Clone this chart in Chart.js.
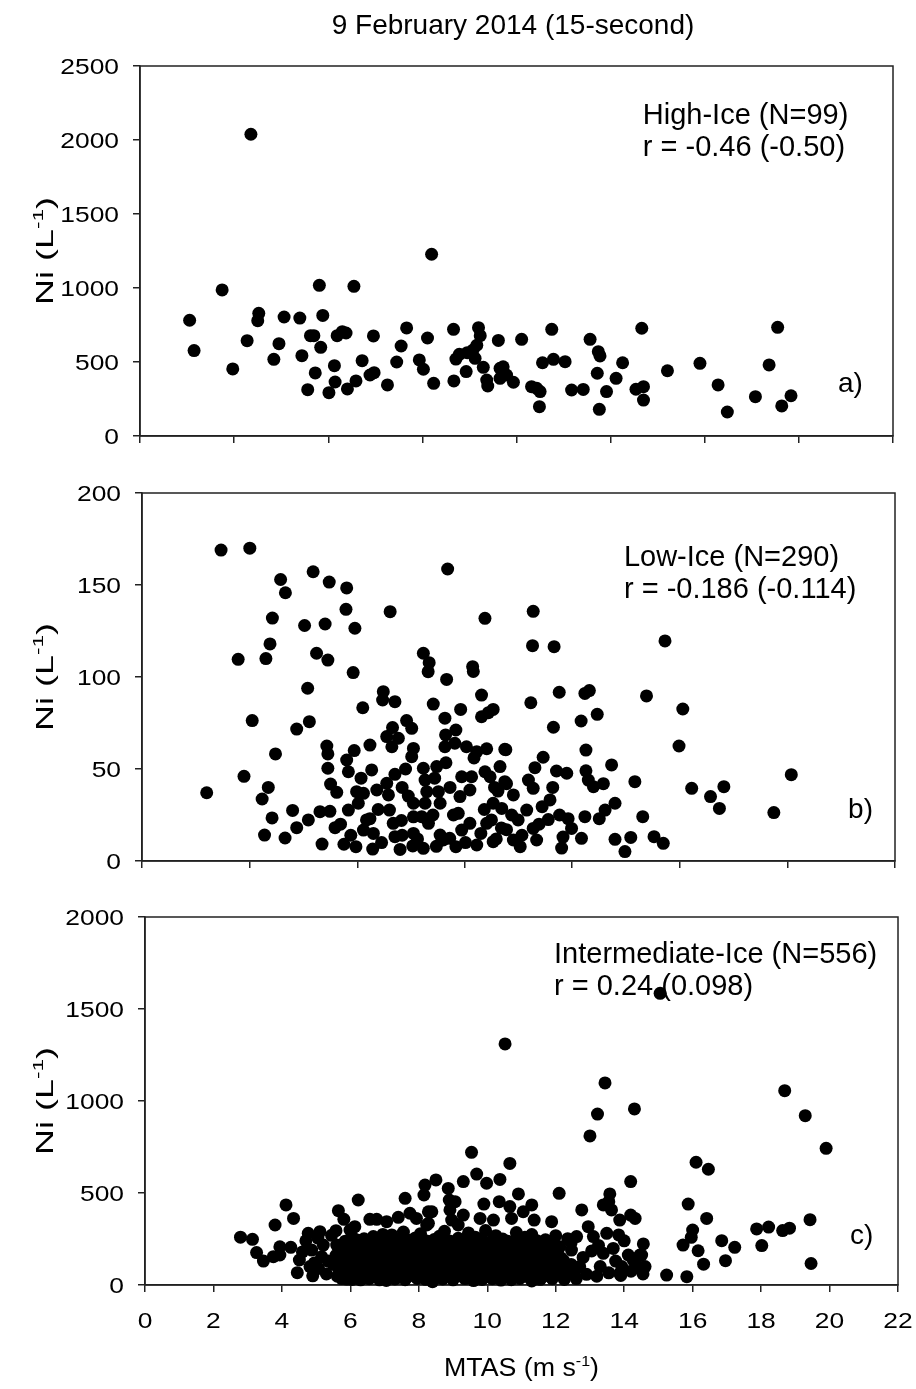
<!DOCTYPE html>
<html>
<head>
<meta charset="utf-8">
<script src="https://cdn.jsdelivr.net/npm/chart.js@4/dist/chart.umd.min.js"></script>
<style>
  body { margin: 0; background: #fff; }
  canvas { position: absolute; left: 0; }
</style>
</head>
<body>
<canvas id="highIce" width="916" height="446" style="top:0px"></canvas>
<canvas id="lowIce" width="916" height="425" style="top:446px"></canvas>
<canvas id="midIce" width="916" height="518" style="top:871px"></canvas>
<script>
// MTAS (m/s), Ni (1/L) pairs
const highIce = [
  [3.24,2039],[8.52,1228],[2.40,987],[5.24,1018],[6.25,1011],[1.45,782],[1.58,577],[2.71,453],
  [3.13,644],[3.47,829],[3.44,779],[3.91,518],[4.06,624],[4.21,804],[4.67,797],[4.73,543],
  [4.90,313],[4.98,678],[5.08,678],[5.12,426],[5.28,599],[5.34,815],[5.52,293],[5.68,475],
  [5.70,365],[5.76,678],[5.91,705],[6.02,696],[6.06,318],[6.31,372],[6.49,509],[6.72,412],
  [6.84,428],[6.82,676],[7.23,345],[7.50,500],[7.63,608],[7.79,730],[8.16,514],[8.28,451],
  [8.40,662],[8.58,356],[9.16,721],[9.17,372],[9.23,520],[9.33,552],[9.53,435],[9.56,563],
  [9.73,581],[9.84,613],[9.89,732],[9.94,678],[10.03,464],[10.13,378],[10.16,338],[9.79,525],
  [10.47,646],[10.52,457],[10.52,390],[10.61,468],[10.71,412],[10.91,363],[11.15,653],[12.03,721],
  [11.44,333],[11.59,322],[11.69,300],[11.67,198],[11.76,495],[12.08,518],[12.42,502],[12.61,311],
  [12.95,315],[13.15,653],[13.39,570],[13.44,541],[13.36,424],[13.63,300],[13.42,180],[13.91,390],
  [14.10,495],[14.49,316],[14.71,333],[14.71,243],[14.66,728],[15.41,441],[16.36,491],[16.89,345],
  [17.16,162],[17.98,266],[18.38,480],[18.63,734],[18.75,203],[19.02,272]
];

const lowIce = [
  [1.89,37.1],[2.31,169],[3.15,170],[2.81,109.6],[2.98,46],[3.22,76.3],[3.51,33.7],[3.58,14.1],
  [3.69,40],[3.62,110],[3.74,118],[3.81,132],[3.80,23.4],[3.90,58.2],[4.05,153],[4.19,145.8],
  [4.18,12.5],[4.40,27.5],[4.52,71.7],[4.52,18.1],[4.75,128],[4.84,93.9],[4.89,75.7],[4.86,22.3],
  [5.00,157.2],[5.10,112.9],[5.20,26.8],[5.26,9.2],[5.35,128.8],[5.40,62.5],[5.43,58.2],[5.43,50.4],
  [5.43,109.2],[5.47,151.6],[5.49,27],[5.51,41.8],[5.64,18.1],[5.69,37.3],[5.98,148.4],[5.96,136.8],
  [5.98,54.9],[6.03,48.5],[5.90,9.1],[6.03,27.7],[6.17,102.4],[6.22,126.5],[6.25,7.8],[6.27,37.7],
  [6.32,31.4],[6.47,36.8],[6.47,16.8],[6.45,83.3],[6.56,22.3],[6.66,23],[6.71,49.5],[6.66,63],
  [6.74,6.5],[6.76,15],[6.86,38.6],[7.05,92],[7.03,87.5],[7.25,135.5],[7.32,72.5],[7.15,67.6],
  [7.30,62.1],[7.39,86.6],[7.49,66.7],[7.39,47.1],[7.15,42.2],[7.20,35.9],[7.23,27.7],[7.34,20.5],
  [7.39,13.2],[7.54,6.3],[7.58,22],[7.73,76.3],[7.88,72.1],[7.93,61.2],[7.88,56.7],[7.78,35.3],
  [7.93,31.4],[7.93,24],[7.93,15],[7.91,8.2],[8.22,112.9],[8.39,107.8],[8.36,102.9],[8.22,50.4],
  [8.27,44],[8.32,37.7],[8.27,31.4],[8.17,24.1],[8.37,20.5],[8.22,6.9],[8.51,85.3],[8.66,37.7],
  [8.71,31.4],[8.61,51.3],[8.85,77.6],[8.90,98.7],[8.93,158.7],[8.87,68.5],[8.85,62.1],[8.88,53.4],
  [8.71,14.1],[8.80,11.4],[8.99,12.3],[9.17,7.8],[9.17,71.2],[9.14,64],[9.31,82.4],[9.34,45.8],
  [9.48,62.1],[9.29,35],[9.24,25.9],[9.34,16.8],[9.58,20.5],[9.58,38.6],[9.63,45.8],[9.66,105.6],
  [9.68,103],[9.78,59.4],[9.78,8.7],[9.92,90.2],[10.02,131.9],[9.92,78.4],[10.12,80.6],[10.26,82.4],
  [10.07,61],[10.02,48.5],[10.17,45.8],[10.26,31.4],[10.46,51.3],[10.21,22.3],[10.26,10.5],[10.07,20.5],
  [10.60,60.7],[10.60,43.1],[10.50,18],[10.40,38],
  [11.43,135.7],[11.41,117],[12.04,116.5],[15.28,119.6],[12.19,91.7],[12.94,91.1],[13.07,92.6],[14.74,89.7],
  [11.36,86],[15.80,82.6],[13.30,79.7],[12.83,76.1],[12.02,72.7],[15.69,62.5],[12.97,60.3],[10.63,60.5],
  [11.72,56.4],[13.72,52.2],[11.48,50.7],[12.11,48.9],[12.41,47.7],[12.97,49],[18.97,46.9],[10.65,42],
  [11.29,44],[13.04,44],[13.19,40.4],[13.48,42],[14.40,43.1],[16.06,39.5],[17.00,40.4],[16.61,35],
  [16.87,28.6],[18.46,26.3],[10.85,35.9],[11.43,39.5],[11.92,33.2],[11.69,29.5],[13.82,31.4],[13.53,27.7],
  [11.24,27.7],[10.51,28.6],[10.99,22.3],[11.87,22.5],[12.45,23],[12.94,24.1],[13.36,23],[14.63,24.1],
  [11.43,17.7],[10.65,17],[12.55,17.7],[12.84,12.3],[12.30,13],[13.82,11.8],[14.28,12.8],[14.96,13.2],
  [15.23,9.6],[14.11,5.1],[11.05,7.8],[12.26,7],[11.53,11.4],[10.85,11.4],
  [5.80,20],[6.10,14],[6.40,45],[6.90,28],[7.00,10],[7.60,40],[7.70,50],[8.05,12],
  [8.50,25],[8.60,8],[9.00,40],[9.10,25],[9.45,10],[9.90,15],[10.00,28],[10.30,40],
  [10.80,25],[11.10,14],[11.60,20],[12.00,40],[12.20,25],[6.20,60],[7.60,14],[8.55,45],
  [9.70,56],[10.35,12]
];

const midIce = [
  [2.79,260],[3.14,248],[3.26,176],[3.46,130],[3.75,154],[3.94,208],[3.94,163],[4.26,205],
  [3.80,326],[4.12,435],[4.34,362],[4.51,136],[4.45,67],[4.77,281],[5.11,290],[4.87,190],
  [4.82,100],[5.07,90],[5.21,217],[5.16,154],[5.65,404],[5.58,295],[5.81,357],[5.99,299],
  [6.13,317],[6.23,462],[5.70,63],[5.60,217],[5.60,154],[5.89,172],[6.09,63],[6.19,226],
  [6.28,136],[6.57,357],[6.77,357],[7.06,344],[7.40,368],[7.60,471],[7.74,390],[7.93,362],
  [8.18,543],[8.15,489],[8.23,326],[8.28,398],[6.67,263],[6.87,208],[7.21,272],
  [4.60,180],[4.70,240],[4.95,120],[5.05,255],[5.30,60],[5.35,130],[5.45,270],[4.90,50],
  [15.05,1585],[10.52,1310],[13.44,1098],[13.22,929],[14.30,957],[13.00,810],[18.69,1056],[19.29,920],
  [19.90,743],[9.54,721],[10.66,661],[16.10,667],[16.46,629],[9.69,603],
  [10.37,574],[9.98,553],[9.30,562],[8.50,571],[8.86,525],[8.89,462],[9.06,453],[8.38,398],
  [8.28,335],[8.91,408],[8.96,353],[9.15,326],[9.30,380],[9.90,440],[10.35,453],[10.91,495],
  [11.30,435],[10.66,426],[9.79,362],[10.18,353],[10.71,362],[11.05,398],[11.37,353],[11.88,344],
  [12.10,498],[12.76,408],[12.95,317],[13.58,495],[13.39,435],[13.55,453],[13.63,408],[13.87,353],
  [14.19,562],[14.19,380],[14.32,362],[13.49,281],[13.84,272],[14.56,223],[14.46,163],[14.61,100],
  [15.24,54],[15.83,45],[15.87,440],[16.41,362],[16.00,299],[15.96,259],[15.72,217],[16.16,186],
  [16.32,113],[16.85,241],[16.96,132],[17.23,205],[17.87,305],[18.22,315],[18.02,214],[18.63,296],
  [18.83,309],[19.43,355],[19.46,117],
  [13.68,199],[14.12,163],[13.93,100],[13.30,100],[13.39,172],[13.10,263],[12.61,263],[12.46,190],
  [12.70,100],[12.22,136],[11.93,100],[12.12,208],[14.26,136],[14.51,163],[14.41,100],[13.87,63],
  [12.55,70],[12.90,58],[13.20,48],[13.55,66],[13.90,52],[14.20,75],[14.55,60],[12.80,150],
  [13.05,185],[13.75,130],[14.00,240],[12.45,230],[13.25,215],
  [5.62,48],[5.95,61],[6.18,42],[6.41,55],[6.66,70],[6.88,47],[7.12,58],[7.35,39],
  [7.58,66],[7.81,52],[8.03,44],[8.27,71],[8.44,30],[8.62,57],[8.85,49],[9.08,63],
  [9.31,41],[9.52,68],[9.77,53],[9.98,45],[10.22,62],[10.46,50],[10.68,38],[10.91,59],
  [11.13,47],[11.38,66],[11.60,52],[11.85,44],[12.07,61],[12.30,55],
  [5.50,112],[5.78,96],[6.02,118],[6.30,88],[6.53,104],[6.79,121],[7.02,92],[7.26,109],
  [7.47,86],[7.70,117],[7.94,98],[8.16,125],[8.39,90],[8.58,110],[8.80,95],[9.02,119],
  [9.24,87],[9.46,106],[9.68,124],[9.90,93],[10.13,113],[10.36,89],[10.58,108],[10.80,121],
  [11.02,94],[11.26,110],[11.50,88],[11.72,117],[11.96,99],[12.20,85],[12.45,112],
  [5.58,161],[5.84,146],[6.08,172],[6.35,151],[6.60,168],[6.83,142],[7.06,163],[7.30,177],
  [7.52,149],[7.76,166],[8.00,141],[8.21,174],[8.47,155],[8.70,170],[8.93,145],[9.14,163],
  [9.38,178],[9.60,150],[9.84,168],[10.05,143],[10.28,160],[10.52,176],[10.74,147],[10.97,164],
  [11.20,152],[11.43,171],[11.66,140],[11.90,158],[12.15,148],
  [5.72,205],[6.00,224],[6.25,198],[6.47,215],[6.72,229],[6.95,196],[7.18,218],[7.43,203],
  [7.66,230],[7.88,194],[8.10,212],[8.33,236],[8.55,200],[8.77,222],[9.00,208],[9.20,231],
  [9.44,195],[9.65,216],[9.88,238],[10.10,201],[10.33,220],[10.56,206],[10.78,232],[11.00,198],
  [11.24,215],[11.48,227],[11.70,192],[11.94,211],
  [6.05,262],[6.40,251],[6.95,275],[7.30,248],[7.55,288],[7.90,256],[8.05,279],[8.60,265],
  [8.75,292],[9.15,254],[9.45,283],[9.65,260],[9.95,296],[10.25,268],[10.45,250],[10.85,285],
  [11.10,259],[11.30,274],[11.70,246],[12.00,268],[12.35,252],
  [6.30,28],[7.05,25],[8.40,18],[9.60,24],[10.40,27],[11.30,22],[12.60,35],[5.90,32],
  [5.68,80],[5.90,74],[6.12,85],[6.38,77],[6.60,83],[6.84,72],[7.08,80],[7.30,76],
  [7.53,88],[7.75,79],[7.98,73],[8.20,84],[8.42,78],[8.66,86],[8.90,74],[9.12,81],
  [9.36,77],[9.58,85],[9.82,72],[10.04,80],[10.26,87],[10.50,75],[10.72,82],[10.96,78],
  [11.18,84],[11.42,73],[11.65,80],[11.88,76],[12.12,83],[12.35,79],
  [5.65,132],[5.92,128],[6.16,138],[6.42,126],[6.68,136],[6.92,131],[7.15,127],[7.38,139],
  [7.62,133],[7.86,129],[8.08,137],[8.30,128],[8.52,134],[8.76,130],[8.98,138],[9.20,126],
  [9.42,135],[9.64,131],[9.87,137],[10.09,128],[10.32,134],[10.54,130],[10.78,139],[11.00,127],
  [11.22,133],[11.46,129],[11.69,136],[11.92,131],[12.18,125],
  [5.80,184],[6.10,190],[6.34,180],[6.58,188],[6.80,183],[7.04,191],[7.27,186],[7.50,181],
  [7.74,189],[7.96,184],[8.20,192],[8.42,182],[8.64,187],[8.88,181],[9.10,190],[9.32,185],
  [9.55,188],[9.78,182],[10.00,189],[10.22,184],[10.45,191],[10.68,181],[10.90,187],[11.12,183],
  [11.36,190],[11.58,186],[11.82,181],[12.05,188],
  [5.85,238],[6.20,244],[6.55,236],[6.85,246],[7.10,240],[7.42,235],[7.75,243],[8.20,241],
  [8.45,247],[8.90,239],[9.30,244],[9.55,237],[9.80,247],[10.15,241],[10.60,238],[11.00,243],
  [11.45,240],[11.85,236],
  [5.75,35],[6.05,30],[6.55,34],[6.85,28],[7.30,33],[7.60,29],[7.95,36],[8.20,31],
  [8.70,33],[9.00,28],[9.35,35],[9.85,30],[10.15,34],[10.70,29],[10.95,36],[11.55,31],
  [11.90,34],[12.25,30]
];

const xTicksA = [0, 2.75, 5.5, 8.25, 11, 13.75, 16.5, 19.25, 22];
const xTicksB = [0, 3.14, 6.29, 9.43, 12.57, 15.71, 18.86, 22];
const xTicksC = [0, 2, 4, 6, 8, 10, 12, 14, 16, 18, 20, 22];
const yTicksA = [0, 500, 1000, 1500, 2000, 2500];
const yTicksB = [0, 50, 100, 150, 200];
const yTicksC = [0, 500, 1000, 1500, 2000];

const FONT = '"Liberation Sans", Arial, sans-serif';

// draws a run of text pieces, optionally stretched along the baseline and rotated
function drawParts(ctx, parts, x, y, sx, align, angle) {
  ctx.save();
  ctx.translate(x, y);
  if (angle) ctx.rotate(angle);
  ctx.scale(sx, 1);
  ctx.textAlign = 'left';
  ctx.textBaseline = 'alphabetic';
  let total = 0;
  parts.forEach(p => {
    ctx.font = p.size + 'px ' + FONT;
    p.w = ctx.measureText(p.text).width;
    total += p.w;
  });
  let cx = align === 'right' ? -total : align === 'center' ? -total / 2 : 0;
  parts.forEach(p => {
    ctx.font = p.size + 'px ' + FONT;
    ctx.fillText(p.text, cx, -(p.rise || 0));
    cx += p.w;
  });
  ctx.restore();
}

const sigmaText = {
  id: 'sigmaText',
  beforeDatasetsDraw(chart, args, opts) {
    const ctx = chart.ctx;
    const {left, top, right, bottom} = chart.chartArea;
    const xs = chart.scales.x, ys = chart.scales.y;
    ctx.save();
    ctx.strokeStyle = '#222';
    ctx.lineWidth = 1.5;
    ctx.strokeRect(left, top, right - left, bottom - top);
    ctx.fillStyle = '#000';
    (opts.notes || []).forEach(n => {
      drawParts(ctx, [{text: n.text, size: n.size}], xs.getPixelForValue(n.x), ys.getPixelForValue(n.y), 1, 'left');
    });
    ctx.restore();
  },
  afterDraw(chart, args, opts) {
    const ctx = chart.ctx;
    const {left, right, top, bottom} = chart.chartArea;
    const xs = chart.scales.x, ys = chart.scales.y;
    ctx.save();
    ctx.fillStyle = '#000';
    ys.ticks.forEach(t => {
      drawParts(ctx, [{text: String(t.value), size: 22}], left - 21, ys.getPixelForValue(t.value) + 8, 1.2, 'right');
    });
    drawParts(ctx, [
      {text: 'Ni (L', size: 24},
      {text: '-1', size: 15, rise: 10},
      {text: ')', size: 24}
    ], 53, (top + bottom) / 2, 1.5, 'center', -Math.PI / 2);
    if (opts.xLabels) {
      xs.ticks.forEach(t => {
        drawParts(ctx, [{text: String(t.value), size: 22}], xs.getPixelForValue(t.value), bottom + 43, 1.2, 'center');
      });
      drawParts(ctx, [
        {text: 'MTAS (m s', size: 25},
        {text: '-1', size: 15, rise: 10},
        {text: ')', size: 25}
      ], (left + right) / 2, bottom + 91, 1.07, 'center');
    }
    if (opts.title) {
      drawParts(ctx, [{text: opts.title, size: 28}], 513, 34, 1, 'center');
    }
    ctx.restore();
  }
};

function makePanel(id, points, cfg) {
  const axisGrid = { drawOnChartArea: false, drawTicks: true, tickLength: 7, color: '#222', lineWidth: 1.5 };
  return new Chart(document.getElementById(id), {
    type: 'scatter',
    data: {
      datasets: [{
        data: points.map(p => ({x: p[0], y: p[1]})),
        pointRadius: 6.5,
        pointHoverRadius: 6.5,
        backgroundColor: '#000',
        borderWidth: 0,
        clip: false
      }]
    },
    options: {
      responsive: false,
      animation: false,
      events: [],
      layout: { padding: cfg.padding },
      plugins: {
        legend: { display: false },
        tooltip: { enabled: false },
        sigmaText: cfg.text
      },
      scales: {
        x: {
          type: 'linear', min: 0, max: 22,
          afterBuildTicks: s => { s.ticks = cfg.xTicks.map(v => ({value: v})); },
          afterFit: s => { s.height = 10; },
          ticks: { display: false },
          grid: axisGrid,
          border: { color: '#222', width: 1.5 }
        },
        y: {
          type: 'linear', min: cfg.yTicks[0], max: cfg.yTicks[cfg.yTicks.length - 1],
          afterBuildTicks: s => { s.ticks = cfg.yTicks.map(v => ({value: v})); },
          afterFit: s => { s.width = cfg.yWidth; },
          ticks: { display: false },
          grid: axisGrid,
          border: { color: '#222', width: 1.5 }
        }
      }
    },
    plugins: [sigmaText]
  });
}

makePanel('highIce', highIce, {
  padding: {top: 66, right: 23, bottom: 0, left: 0},
  yWidth: 140, xTicks: xTicksA, yTicks: yTicksA,
  text: {
    title: '9 February 2014 (15-second)',
    notes: [
      {text: 'High-Ice (N=99)', x: 14.69, y: 2108, size: 29},
      {text: 'r = -0.46 (-0.50)', x: 14.69, y: 1892, size: 29},
      {text: 'a)', x: 20.39, y: 297, size: 28}
    ]
  }
});

makePanel('lowIce', lowIce, {
  padding: {top: 47, right: 21, bottom: 0, left: 0},
  yWidth: 142, xTicks: xTicksB, yTicks: yTicksB,
  text: {
    notes: [
      {text: 'Low-Ice (N=290)', x: 14.08, y: 160.3, size: 29},
      {text: 'r = -0.186 (-0.114)', x: 14.08, y: 143, size: 29},
      {text: 'b)', x: 20.63, y: 23.4, size: 28}
    ]
  }
});

makePanel('midIce', midIce, {
  padding: {top: 46, right: 18, bottom: 94, left: 0},
  yWidth: 145, xTicks: xTicksC, yTicks: yTicksC,
  text: {
    xLabels: true,
    notes: [
      {text: 'Intermediate-Ice (N=556)', x: 11.95, y: 1750, size: 29},
      {text: 'r = 0.24 (0.098)', x: 11.95, y: 1576, size: 29},
      {text: 'c)', x: 20.6, y: 223, size: 28}
    ]
  }
});
</script>
</body>
</html>
